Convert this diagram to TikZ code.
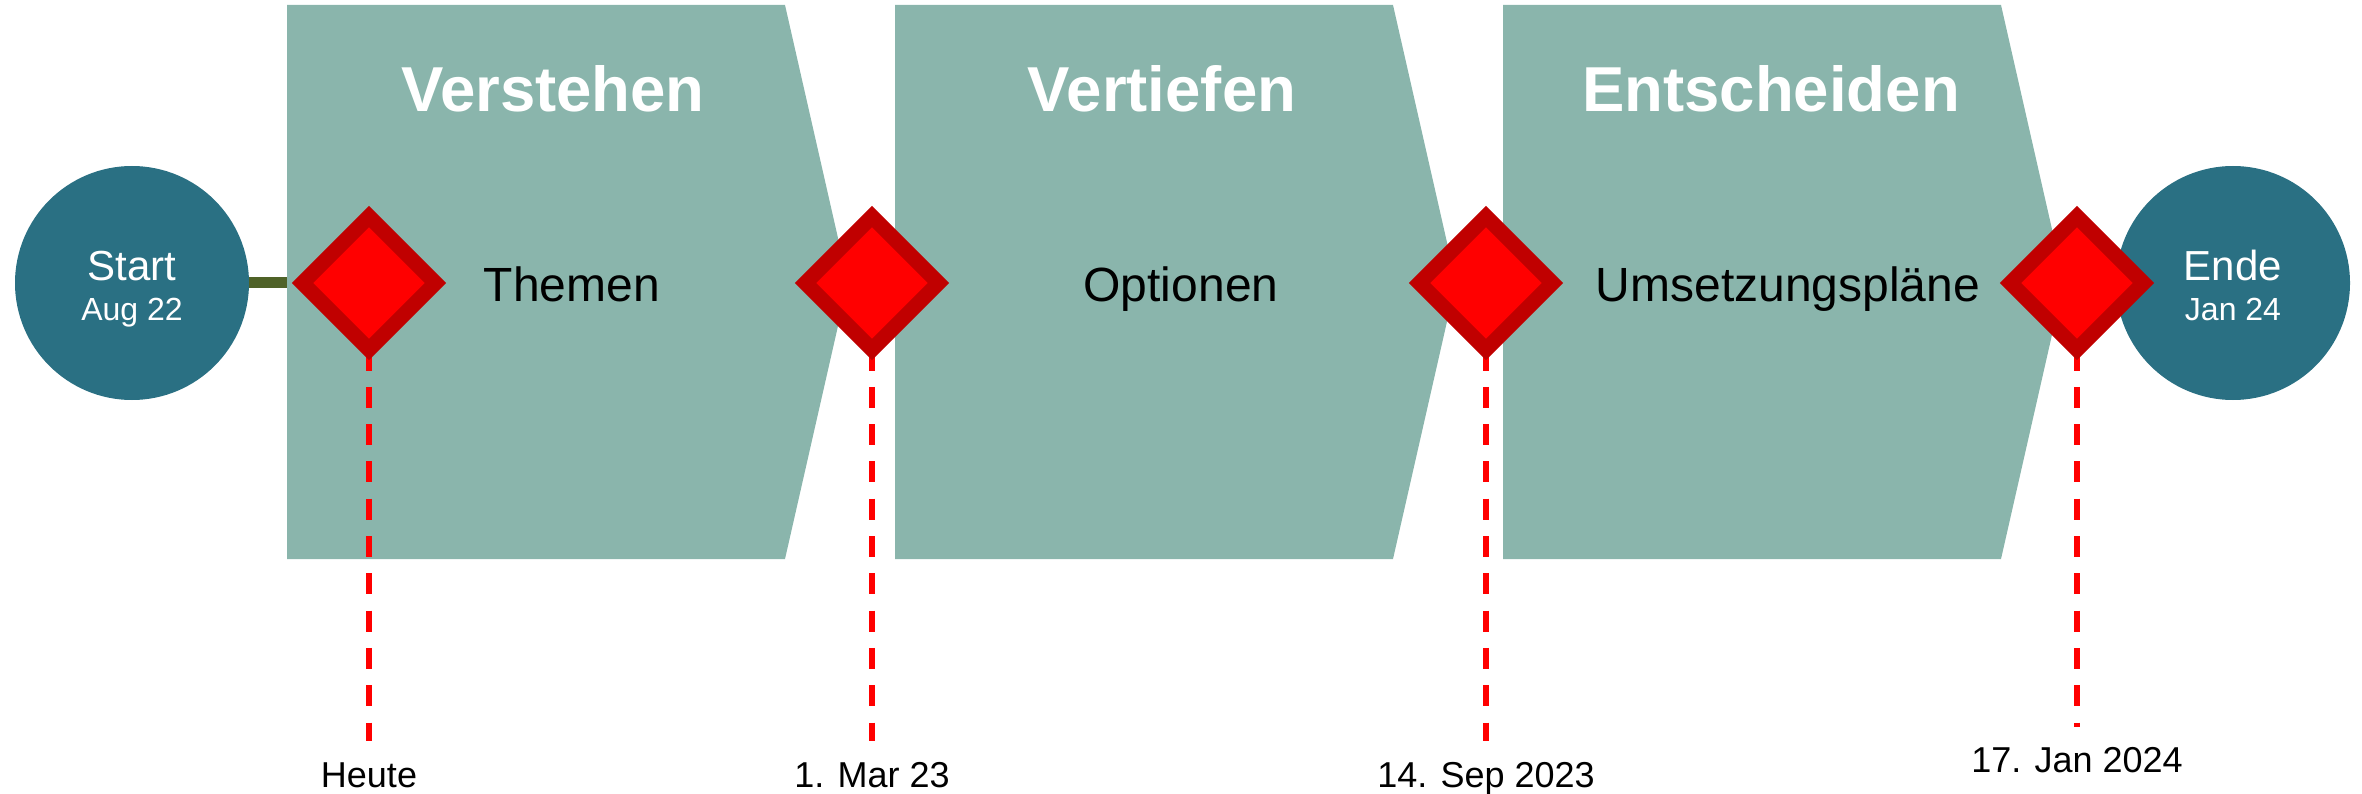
\documentclass[tikz,border=0pt]{standalone}
\usepackage{fontspec}
\setmainfont{Liberation Sans}
\usetikzlibrary{shapes.geometric}
\definecolor{chev}{RGB}{138,181,172}
\definecolor{circ}{RGB}{42,112,131}
\definecolor{dkred}{RGB}{192,0,0}
\definecolor{olivegreen}{RGB}{79,98,40}
\pgfdeclarelayer{back}
\pgfdeclarelayer{mid}
\pgfsetlayers{back,mid,main}
\begin{document}
\begin{tikzpicture}[x=1pt,y=-1pt,
  chevron/.style={fill=chev},
  milestone/.style={diamond, aspect=1, draw=dkred, fill=red, line width=15pt,
    minimum width=133pt, minimum height=133pt, inner sep=0pt, outer sep=0pt, line join=miter},
  endpoint/.style={circle, fill=circ, minimum size=234pt, inner sep=0pt},
  dateline/.style={red, line width=5.5pt, dash pattern=on 21pt off 16.3pt},
  link/.style={olivegreen, line width=11pt},
  title/.style={text=white, font=\bfseries\fontsize{63.5}{72}\selectfont, anchor=base, inner sep=0pt},
  phase/.style={font=\fontsize{48}{56}\selectfont, anchor=base, inner sep=0pt},
  datelbl/.style={font=\fontsize{36}{42}\selectfont, anchor=base, inner sep=0pt},
  bigw/.style={text=white, font=\fontsize{42}{48}\selectfont, anchor=base, inner sep=0pt},
  smallw/.style={text=white, font=\fontsize{32}{38}\selectfont, anchor=base, inner sep=0pt}
]
\useasboundingbox (0,0) rectangle (2362,794);

\begin{pgfonlayer}{back}
% chevrons
\path[chevron] (287,5) -- (785,5) -- (848,282) -- (785,559) -- (287,559) -- cycle;
\path[chevron] (895,5) -- (1393,5) -- (1456,282) -- (1393,559) -- (895,559) -- cycle;
\path[chevron] (1503,5) -- (2001,5) -- (2064,282) -- (2001,559) -- (1503,559) -- cycle;
\coordinate (c1w) at (287,283);
% start / end circles
\node[endpoint] (start) at (132,283) {};
\node[endpoint] (ende) at (2233,283) {};
\draw[link] (start.east) -- (c1w);
\end{pgfonlayer}

% milestones
\node[milestone] (d1) at (369,283) {};
\node[milestone] (d2) at (872,283) {};
\node[milestone] (d3) at (1486,283) {};
\node[milestone] (d4) at (2077,283) {};

\coordinate (e1) at (369,741);
\coordinate (e2) at (872,741);
\coordinate (e3) at (1486,741);
\coordinate (e4) at (2077,727);

\begin{pgfonlayer}{mid}
\draw[dateline] (d1.south) -- (e1);
\draw[dateline] (d2.south) -- (e2);
\draw[dateline] (d3.south) -- (e3);
\draw[dateline] (d4.south) -- (e4);
\end{pgfonlayer}

% titles
\node[title] (t1) at (553,112) {Verstehen};
\node[title] (t2) at (1162,112) {Vertiefen};
\node[title] (t3) at (1771,112) {Entscheiden};

% phase contents
\node[phase] (p1) at (572,302) {Themen};
\node[phase] (p2) at (1181,302) {Optionen};
\node[phase] (p3) at (1788,302) {Umsetzungspläne};

% circle texts
\node[bigw] (st) at ([yshift=2pt]start.center) {Start};
\node[smallw] (sd) at ([yshift=-38pt]start.center) {Aug 22};
\node[bigw] (et) at ([yshift=2pt]ende.center) {Ende};
\node[smallw] (ed) at ([yshift=-38pt]ende.center) {Jan 24};

% date labels
\node[datelbl] (l1) at (369,787) {Heute};
\node[datelbl] (l2) at (872,787) {1. Mar 23};
\node[datelbl] (l3) at (1486,787) {14. Sep 2023};
\node[datelbl] (l4) at (2077,772) {17. Jan 2024};
\end{tikzpicture}
\end{document}
